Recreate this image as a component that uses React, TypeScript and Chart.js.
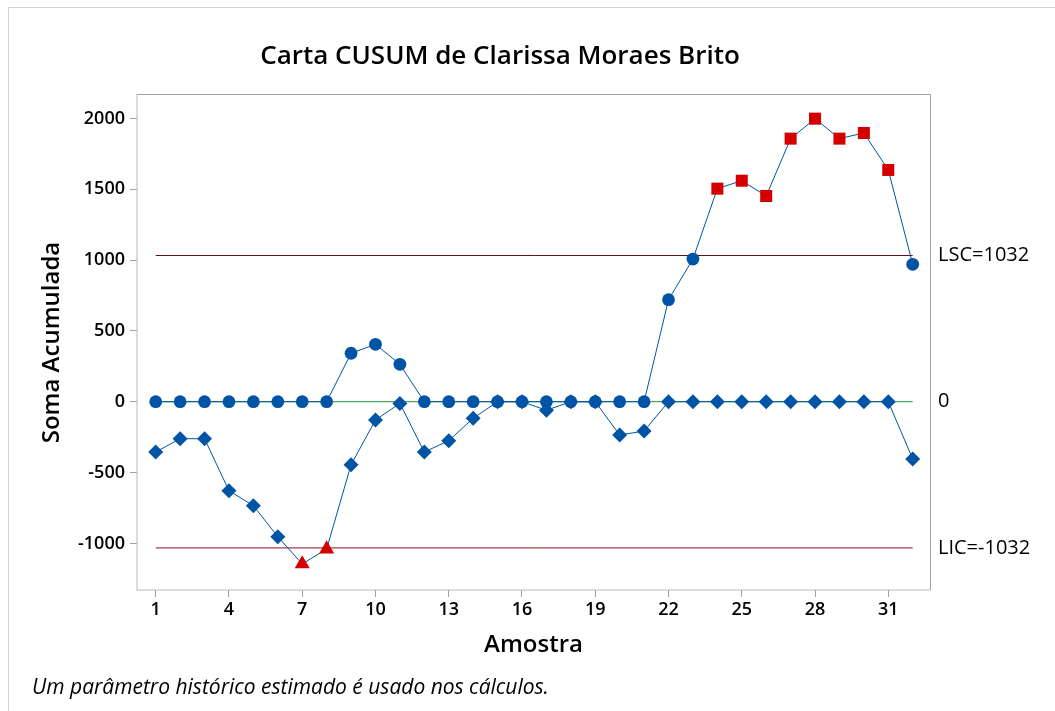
import React, { useEffect, useRef } from 'react';
import { Chart, registerables } from 'chart.js';

Chart.register(...registerables);

// ---- data ----
const samples = [1, 2, 3, 4, 5, 6, 7, 8, 9, 10, 11, 12, 13, 14, 15, 16, 17, 18, 19, 20, 21, 22, 23, 24, 25, 26, 27, 28, 29, 30, 31, 32];
const upperCusum = [0, 0, 0, 0, 0, 0, 0, 0, 342, 405, 264, 0, 0, 0, 0, 0, 0, 0, 0, 0, 0, 720, 1007, 1504, 1560, 1452, 1857, 1998, 1857, 1897, 1636, 970];
const lowerCusum = [-355, -261, -261, -628, -734, -953, -1145, -1040, -445, -129, -12, -355, -275, -117, 0, 0, -60, 0, 0, -235, -207, 0, 0, 0, 0, 0, 0, 0, 0, 0, 0, -404];
const xTickValues = [1, 4, 7, 10, 13, 16, 19, 22, 25, 28, 31];
const yTickValues = [-1000, -500, 0, 500, 1000, 1500, 2000];
const upperLimit = 1032;
const lowerLimit = -1032;
const centerValue = 0;
const limitLabels = ['LSC=1032', '0', 'LIC=-1032'];
const chartTitle = 'Carta CUSUM de Clarissa Moraes Brito';
const xAxisTitle = 'Amostra';
const yAxisTitle = 'Soma Acumulada';
const footnote = 'Um parâmetro histórico estimado é usado nos cálculos.';

const FONT = '"Open Sans", "Noto Sans", "DejaVu Sans", sans-serif';
const BLUE = '#0054a6';
const RED = '#d40000';

const decorPlugin = {
  id: 'decor',
  beforeDraw(chart: any) {
    const { ctx, width, height } = chart;
    ctx.save();
    ctx.fillStyle = '#ffffff';
    ctx.fillRect(0, 0, width, height);
    ctx.strokeStyle = '#d2d2d2';
    ctx.lineWidth = 1;
    ctx.beginPath();
    ctx.moveTo(8, 7.5);
    ctx.lineTo(width, 7.5);
    ctx.moveTo(8.5, 7);
    ctx.lineTo(8.5, height);
    ctx.stroke();
    ctx.restore();
  },
  beforeDatasetsDraw(chart: any) {
    const { ctx, chartArea } = chart;
    const { left, right, top, bottom } = chartArea;
    ctx.save();
    ctx.strokeStyle = '#a0a0a0';
    ctx.lineWidth = 1;
    ctx.beginPath();
    ctx.moveTo(left, top - 0.5);
    ctx.lineTo(right + 0.5, top - 0.5);
    ctx.lineTo(right + 0.5, bottom);
    ctx.stroke();
    ctx.strokeStyle = '#b8b8b8';
    ctx.beginPath();
    ctx.moveTo(left, top - 1);
    ctx.lineTo(left, bottom);
    ctx.lineTo(right + 1, bottom);
    ctx.stroke();
    ctx.restore();
  },
  afterDraw(chart: any) {
    const { ctx, chartArea } = chart;
    const yScale = chart.scales.y;
    ctx.save();
    ctx.fillStyle = '#000000';
    ctx.textBaseline = 'middle';
    // title
    ctx.font = `600 26px ${FONT}`;
    ctx.textAlign = 'center';
    ctx.fillText(chartTitle, 500, 57);
    // limit labels
    ctx.font = `400 20px ${FONT}`;
    ctx.textAlign = 'left';
    const vals = [upperLimit, centerValue, lowerLimit];
    vals.forEach((v, i) => {
      ctx.fillText(limitLabels[i], chartArea.right + 8, yScale.getPixelForValue(v));
    });
    // footnote
    ctx.font = `italic 400 21px ${FONT}`;
    ctx.fillText(footnote, 32, 688);
    ctx.restore();
  },
};

export default function App() {
  const canvasRef = useRef<HTMLCanvasElement | null>(null);

  useEffect(() => {
    const canvas = canvasRef.current;
    if (!canvas) return;

    const upperPts = samples.map((x, i) => ({ x, y: upperCusum[i] }));
    const lowerPts = samples.map((x, i) => ({ x, y: lowerCusum[i] }));
    const first = samples[0];
    const last = samples[samples.length - 1];
    const hLine = (v: number) => [{ x: first, y: v }, { x: last, y: v }];

    const tickFont = { family: FONT, size: 18, weight: 600 as any };
    const titleFont = { family: FONT, size: 24, weight: 600 as any };

    const chart = new Chart(canvas, {
      type: 'line',
      data: {
        datasets: [
          {
            label: 'Inferior',
            data: lowerPts,
            borderColor: BLUE,
            borderWidth: 1,
            pointStyle: (c: any) => (c.parsed && c.parsed.y < lowerLimit ? 'triangle' : 'rectRot'),
            pointRadius: (c: any) => (c.parsed && c.parsed.y < lowerLimit ? 8.7 : 7.5),
            pointBackgroundColor: (c: any) => (c.parsed && c.parsed.y < lowerLimit ? RED : BLUE),
            pointBorderWidth: 0,
            pointBorderColor: 'rgba(0,0,0,0)',
          } as any,
          {
            label: 'Superior',
            data: upperPts,
            borderColor: BLUE,
            borderWidth: 1,
            pointStyle: (c: any) => (c.parsed && c.parsed.y > upperLimit ? 'rect' : 'circle'),
            pointRadius: (c: any) => (c.parsed && c.parsed.y > upperLimit ? 8.5 : 6.4),
            pointBackgroundColor: (c: any) => (c.parsed && c.parsed.y > upperLimit ? RED : BLUE),
            pointBorderWidth: 0,
            pointBorderColor: 'rgba(0,0,0,0)',
          } as any,
          {
            label: 'LSC',
            data: hLine(upperLimit),
            borderColor: '#6e0f0f',
            borderWidth: 1,
            pointRadius: 0,
          },
          {
            label: 'Centro',
            data: hLine(centerValue),
            borderColor: '#2f8f2f',
            borderWidth: 1,
            pointRadius: 0,
          },
          {
            label: 'LIC',
            data: hLine(lowerLimit),
            borderColor: '#8f1015',
            borderWidth: 1,
            pointRadius: 0,
          },
        ],
      },
      options: {
        animation: false,
        responsive: false,
        devicePixelRatio: 1,
        layout: { padding: { top: 95, right: 125, bottom: 0, left: 0 } },
        plugins: {
          legend: { display: false },
          title: { display: false },
          tooltip: { enabled: false },
        },
        elements: { line: { tension: 0 } },
        scales: {
          x: {
            type: 'linear',
            min: 0.234,
            max: 32.708,
            afterBuildTicks: (s: any) => {
              s.ticks = xTickValues.map((v) => ({ value: v }));
            },
            afterFit: (s: any) => {
              s.height = 121;
            },
            ticks: {
              autoSkip: false,
              maxRotation: 0,
              padding: 2,
              color: '#000',
              font: tickFont,
              callback: (v: any) => String(v),
            },
            grid: {
              display: true,
              drawOnChartArea: false,
              drawTicks: true,
              tickLength: 7,
              tickColor: '#a0a0a0',
            },
            border: { display: false },
            title: {
              display: true,
              text: xAxisTitle,
              color: '#000',
              font: titleFont,
              padding: { top: 0, bottom: 51 },
            },
          },
          y: {
            type: 'linear',
            min: -1329,
            max: 2165,
            afterBuildTicks: (s: any) => {
              s.ticks = yTickValues.map((v) => ({ value: v }));
            },
            afterFit: (s: any) => {
              s.width = 137;
            },
            ticks: {
              autoSkip: false,
              padding: 5,
              color: '#000',
              font: tickFont,
              callback: (v: any) => String(v),
            },
            grid: {
              display: true,
              drawOnChartArea: false,
              drawTicks: true,
              tickLength: 7,
              tickColor: '#a0a0a0',
            },
            border: { display: false },
            title: {
              display: true,
              text: yAxisTitle,
              color: '#000',
              font: titleFont,
              padding: { top: 38, bottom: 0 },
            },
          },
        },
      },
      plugins: [decorPlugin],
    } as any);

    return () => {
      chart.destroy();
    };
  }, []);

  return (
    <div style={{ position: 'fixed', left: 0, top: 0, width: 1055, height: 711, background: '#fff' }}>
      <canvas ref={canvasRef} width={1055} height={711} style={{ display: 'block', width: 1055, height: 711 }} />
    </div>
  );
}
